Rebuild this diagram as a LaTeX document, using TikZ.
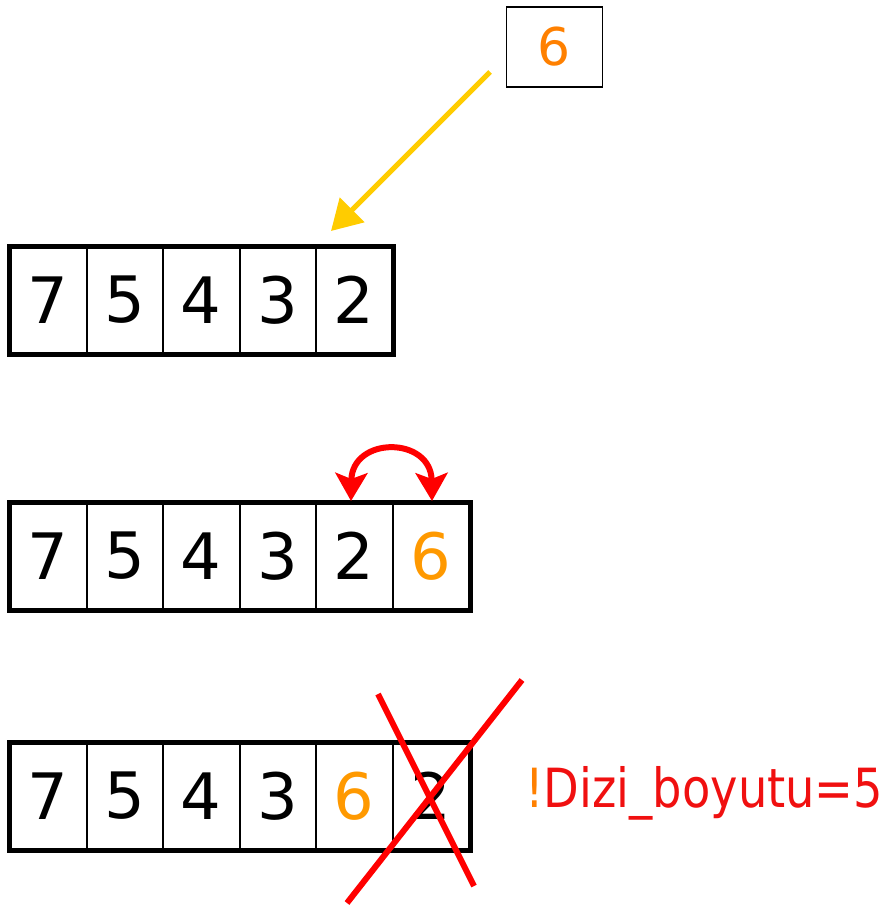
\documentclass[tikz,border=0pt]{standalone}
\usepackage{fontspec}
\setmainfont{DejaVu Sans}
\usetikzlibrary{arrows.meta}
\definecolor{orA}{RGB}{255,128,0}
\definecolor{orB}{RGB}{255,153,0}
\definecolor{yel}{RGB}{255,204,0}
\definecolor{redx}{RGB}{255,0,0}
\definecolor{redt}{RGB}{240,16,16}
\begin{document}
\begin{tikzpicture}[x=1pt,y=-1pt,
  cell/.style={draw,line width=2pt,minimum width=76.5pt,minimum height=106pt,inner sep=0pt,font=\fontsize{64}{64}\selectfont,anchor=center},
  outerbox/.style={line width=5pt},
  xline/.style={draw=redx,line width=6pt},
]
\useasboundingbox (0,0) rectangle (887,905);
% top box
\node[draw,line width=1.4pt,minimum width=96pt,minimum height=80pt,inner sep=0pt,text=orA,font=\fontsize{52}{52}\selectfont] (six) at (554.5,47) {6};
\coordinate (ystart) at (490,72);
% row 1
\foreach \i/\t in {1/7,2/5,3/4,4/3,5/2}{
  \node[cell] (a\i) at ({10+76.5*(\i-0.5)},300) {\t};
}
\draw[outerbox] (a1.north west) rectangle (a5.south east);
% row 2
\foreach \i/\t in {1/7,2/5,3/4,4/3,5/2}{
  \node[cell] (b\i) at ({10+76.5*(\i-0.5)},556) {\t};
}
\node[cell,text=orB] (b6) at ({10+76.5*5.5},556) {6};
\draw[outerbox] (b1.north west) rectangle (b6.south east);
% row 3
\foreach \i/\t in {1/7,2/5,3/4,4/3,6/2}{
  \node[cell] (c\i) at ({10+76.5*(\i-0.5)},796) {\t};
}
\node[cell,text=orB] (c5) at ({10+76.5*4.5},796) {6};
\draw[outerbox] (c1.north west) rectangle (c6.south east);
% yellow arrow
\coordinate (ytip) at (331,231);
\draw[yel,line width=5pt,-{Triangle[length=30pt,width=34pt]}] (ystart) -- (ytip);
% red swap arrow
\coordinate (sl) at (351,501);
\coordinate (sr) at (432,501);
\draw[redx,line width=6pt,{Stealth[length=28pt,width=32pt,inset=6pt]}-{Stealth[length=28pt,width=32pt,inset=6pt]}] (sl) .. controls (352,436) and (431,436) .. (sr);
% cross
\coordinate (x1a) at (378,694);
\coordinate (x1b) at (474,886);
\coordinate (x2a) at (522,680);
\coordinate (x2b) at (347,903);
\draw[xline] (x1a) -- (x1b);
\draw[xline] (x2a) -- (x2b);
% label
\node[anchor=base west,inner sep=0pt,font=\fontsize{54}{54}\selectfont,text=redt] (lbl) at (525,807) {\resizebox{358pt}{\height}{\textcolor{orA}{!}Dizi\_boyutu=5}};
\end{tikzpicture}
\end{document}
